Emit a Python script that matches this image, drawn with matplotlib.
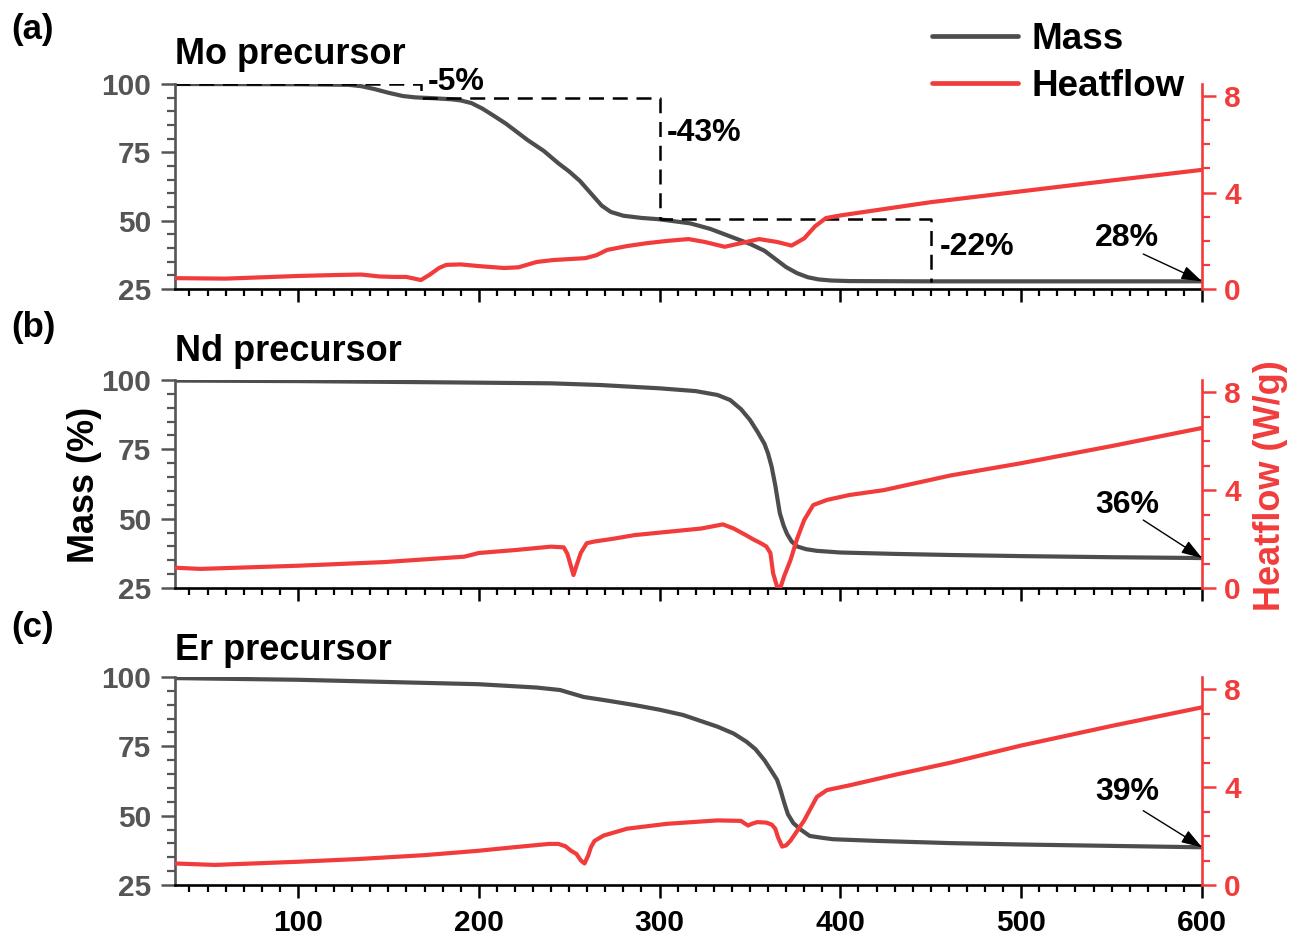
import matplotlib
matplotlib.use("Agg")
import matplotlib.pyplot as plt
from matplotlib.lines import Line2D
from matplotlib.ticker import AutoMinorLocator, MultipleLocator

plt.rcParams["font.family"] = ["Liberation Sans", "DejaVu Sans"]
plt.rcParams["font.weight"] = "bold"

MASS_C = "#4d4d4d"
HEAT_C = "#f23c3c"
AXIS_GRAY = "#555555"

# ---- data (temperature in degC) ----
mo_mass_t = [32, 100, 128, 135, 142, 150, 158, 165, 175, 185, 190, 196, 202, 208, 215, 221,
             227, 236, 244, 250, 256, 262, 268, 273, 280, 290, 300, 317, 328, 340, 350, 358,
             364, 370, 376, 382, 388, 395, 405, 450, 500, 600]
mo_mass = [100, 99.9, 99.7, 99.2, 98.2, 96.8, 95.6, 95.1, 94.8, 94.4, 94, 93, 91, 88.5,
           85.5, 82.5, 79.5, 75.5, 71, 68, 64.5, 60, 55.5, 53.2, 51.8, 51, 50.5, 49, 47,
           44, 41.5, 39, 36, 33, 30.8, 29.3, 28.5, 28.1, 27.9, 27.8, 27.8, 27.8]
mo_heat_t = [32, 60, 100, 121, 135, 145, 153, 160, 165, 168, 173, 178, 182, 190, 200, 214,
             222, 232, 241, 250, 259, 265, 271, 282, 293, 305, 316, 325, 336, 345, 355, 365,
             373, 380, 386, 392, 400, 450, 500, 550, 600]
mo_heat = [0.45, 0.43, 0.54, 0.58, 0.6, 0.52, 0.5, 0.5, 0.42, 0.37, 0.6, 0.87, 1.0, 1.02,
           0.95, 0.87, 0.9, 1.12, 1.2, 1.24, 1.28, 1.4, 1.62, 1.78, 1.9, 2.0, 2.07, 1.95,
           1.75, 1.9, 2.07, 1.95, 1.8, 2.1, 2.6, 2.94, 3.05, 3.6, 4.05, 4.5, 4.94]

nd_mass_t = [32, 100, 190, 240, 267, 300, 320, 332, 339, 345, 350, 354, 358, 360, 362, 364,
             365, 366.5, 368.6, 370.5, 373, 376, 381, 387, 400, 430, 461, 500, 550, 600]
nd_mass = [99.8, 99.6, 99.1, 98.8, 98.2, 97, 96, 94.6, 92.8, 89.5, 85.6, 81.5, 77, 73.5,
           68.7, 62, 58, 52, 47.5, 44.5, 41.8, 40, 39, 38.4, 37.8, 37.3, 36.9, 36.5, 36.1,
           35.8]
nd_heat_t = [32, 46, 100, 148, 192, 200, 220, 240, 247, 249, 252.4, 254, 256.4, 259.7, 264,
             275, 286, 305, 323, 335, 341, 348, 352, 356, 359, 361.3, 362.8, 365, 367, 369,
             372.4, 376, 380, 385, 392.6, 405, 424, 461, 500, 550, 600]
nd_heat = [0.83, 0.78, 0.91, 1.06, 1.28, 1.43, 1.55, 1.69, 1.66, 1.4, 0.53, 0.9, 1.43, 1.83,
           1.9, 2.02, 2.16, 2.3, 2.43, 2.6, 2.43, 2.15, 1.98, 1.83, 1.7, 1.43, 0.6, 0.05,
           0.05, 0.5, 1.14, 2.0, 2.78, 3.39, 3.6, 3.8, 4.0, 4.6, 5.1, 5.8, 6.54]

er_mass_t = [32, 100, 200, 232, 245, 258, 270, 286, 300, 313, 332, 341, 348, 353, 358, 362,
             365, 367, 369, 371, 374, 378, 383, 390, 396, 420, 461, 500, 550, 600]
er_mass = [99.6, 99, 97.4, 96.2, 95.3, 92.8, 91.6, 89.9, 88.2, 86.3, 82.1, 79.6, 76.7, 74,
           70, 66, 62.9, 59, 54.5, 50.5, 47.3, 45, 42.7, 42, 41.5, 40.9, 40.1, 39.6, 39.1, 38.6]
er_heat_t = [32, 54, 100, 133, 170, 200, 219, 239, 244, 248, 251, 254, 256.5, 258.5, 260.5,
             262, 264, 269, 282, 304, 332, 345, 347, 349, 351, 354, 359, 362, 364, 365.5,
             367.8, 370, 372.4, 376, 380, 387, 392.6, 405.5, 430, 461, 500, 550, 600]
er_heat = [0.88, 0.82, 0.95, 1.06, 1.22, 1.4, 1.54, 1.68, 1.68, 1.58, 1.4, 1.27, 1.0, 0.88,
           1.2, 1.54, 1.8, 2.02, 2.3, 2.5, 2.64, 2.62, 2.52, 2.43, 2.5, 2.57, 2.55, 2.47,
           2.3, 1.95, 1.57, 1.62, 1.81, 2.2, 2.64, 3.6, 3.88, 4.08, 4.5, 5.0, 5.7, 6.5, 7.26]

# mass-loss step guide in panel (a)
step_t = [32, 168, 168, 300, 300, 450, 450]
step_m = [100, 100, 95, 95, 50.6, 50.6, 27.6]
step_labels = ["-5%", "-43%", "-22%"]
step_label_pos = [(172, 100.7), (304, 82), (455, 40.4)]

panels = [
    ("(a)", "Mo precursor", mo_mass_t, mo_mass, mo_heat_t, mo_heat, "28%", 27.8, 43.8, 37.8),
    ("(b)", "Nd precursor", nd_mass_t, nd_mass, nd_heat_t, nd_heat, "36%", 35.8, 55.1, 49.5),
    ("(c)", "Er precursor", er_mass_t, er_mass, er_heat_t, er_heat, "39%", 38.6, 58.5, 51.8),
]

W, H = 1293, 935
fig = plt.figure(figsize=(W / 100, H / 100), dpi=100)

# pixel boxes (top, bottom) of each panel
boxes = [(84, 289), (380, 588), (677, 885)]
left_px, right_px = 175, 1202
title_gap = [29, 29, 27]
label_y = [30, 328, 627]

for i, (tag, title, mt, mv, ht, hv, final, fin_m, txt_m, arr_m) in enumerate(panels):
    top, bot = boxes[i]
    ax = fig.add_axes([left_px / W, 1 - bot / H, (right_px - left_px) / W, (bot - top) / H])
    ax2 = ax.twinx()

    ax.plot(mt, mv, color=MASS_C, lw=3.0, solid_capstyle="round", solid_joinstyle="round")
    ax2.plot(ht, hv, color=HEAT_C, lw=3.0, solid_capstyle="round", solid_joinstyle="round")

    ax.set_xlim(32, 600)
    ax.set_ylim(25, 100)
    ax2.set_ylim(0, 8.5)

    ax.xaxis.set_major_locator(MultipleLocator(100))
    ax.xaxis.set_minor_locator(AutoMinorLocator(10))
    ax.yaxis.set_major_locator(MultipleLocator(25))
    ax.yaxis.set_minor_locator(AutoMinorLocator(5))
    ax2.yaxis.set_major_locator(MultipleLocator(4))
    ax2.yaxis.set_minor_locator(AutoMinorLocator(4))

    for a in (ax, ax2):
        a.spines["top"].set_visible(False)
    ax.spines["right"].set_visible(False)
    ax.spines["left"].set_color(AXIS_GRAY)
    ax.spines["left"].set_linewidth(1.9)
    ax.spines["bottom"].set_color("black")
    ax.spines["bottom"].set_linewidth(1.9)
    ax2.spines["left"].set_visible(False)
    ax2.spines["bottom"].set_visible(False)
    ax2.spines["right"].set_color(HEAT_C)
    ax2.spines["right"].set_linewidth(1.9)

    ax.tick_params(axis="y", which="major", direction="out", length=10, width=1.8,
                   color=AXIS_GRAY, labelcolor=AXIS_GRAY, labelsize=21.5, pad=7)
    ax.tick_params(axis="y", which="minor", direction="out", length=5.5, width=1.6,
                   color=AXIS_GRAY)
    ax.tick_params(axis="x", which="major", direction="out", length=9.5, width=1.8,
                   color="black", labelsize=21.5, pad=8,
                   labelbottom=(i == 2))
    ax.tick_params(axis="x", which="minor", direction="out", length=5, width=1.6,
                   color="black")
    ax2.tick_params(axis="y", which="major", direction="out", length=10, width=1.8,
                    color=HEAT_C, labelcolor=HEAT_C, labelsize=21.5, pad=6)
    ax2.tick_params(axis="y", which="minor", direction="out", length=5.5, width=1.6,
                    color=HEAT_C)

    # final mass annotation
    ax.text(558.5, txt_m, final, fontsize=23, ha="center", va="center", color="black")
    ax.annotate("", xy=(600, fin_m), xytext=(567.5, arr_m),
                arrowprops=dict(arrowstyle="-|>,head_length=0.9,head_width=0.3",
                                color="black", lw=1.0, mutation_scale=14,
                                shrinkA=0, shrinkB=0))

    fig.text(11 / W, 1 - label_y[i] / H, tag, fontsize=25, ha="left", va="center")
    fig.text(left_px / W, 1 - (top - title_gap[i]) / H, title, fontsize=26,
             ha="left", va="center")

    if i == 0:
        ax.plot(step_t, step_m, color="black", lw=1.8, ls=(0, (6, 3.5)))
        for lab, (tx, ty) in zip(step_labels, step_label_pos):
            ax.text(tx, ty, lab, fontsize=23, ha="left", va="center")

fig.text(84 / W, 1 - 485 / H, "Mass (%)", fontsize=26, rotation=90,
         ha="center", va="center")
fig.text(1270 / W, 1 - 486 / H, "Heatflow (W/g)", fontsize=26, rotation=90,
         ha="center", va="center", color=HEAT_C)

handles = [Line2D([], [], color=MASS_C, lw=3.4, solid_capstyle="round"),
           Line2D([], [], color=HEAT_C, lw=3.4, solid_capstyle="round")]
fig.legend(handles, ["Mass", "Heatflow"], loc="upper left",
           bbox_to_anchor=(932 / W, 1 - 22 / H), frameon=False, fontsize=26.5,
           handlelength=2.35, handletextpad=0.35, labelspacing=0.33,
           borderpad=0, borderaxespad=0)

fig.savefig("out.png", dpi=100)
